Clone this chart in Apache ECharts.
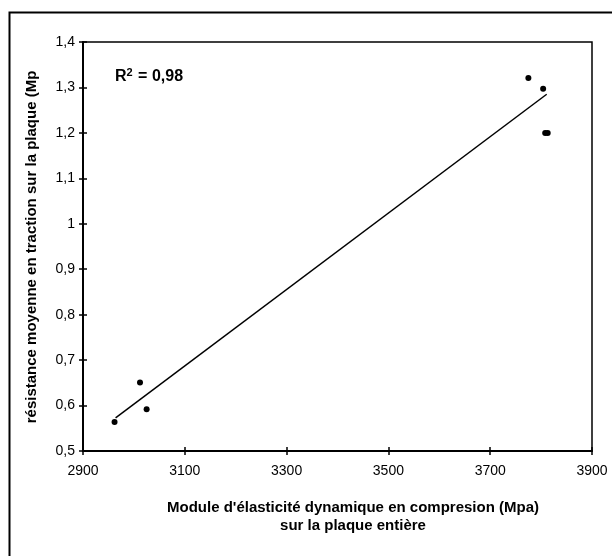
<!DOCTYPE html>
<html>
<head>
<meta charset="utf-8">
<script src="https://cdn.jsdelivr.net/npm/echarts@6/dist/echarts.min.js"></script>
<style>
html,body{margin:0;padding:0;background:#fff;}
#chart{width:612px;height:556px;}
</style>
</head>
<body>
<div id="chart"></div>
<script>
// Data
var moduleX = [2962, 3012, 3025, 3775, 3804, 3808, 3813];
var resistanceY = [0.564, 0.651, 0.592, 1.321, 1.297, 1.200, 1.200];
var trendX = [2964, 3811];
var trendY = [0.573, 1.285];
var xTitleLines = ["Module d'élasticité dynamique en compresion (Mpa)", "sur la plaque entière"];
var yTitle = "résistance moyenne en traction sur la plaque (Mp";
var r2Text = "0,98";

var points = moduleX.map(function (x, i) { return [x, resistanceY[i]]; });
var trend = trendX.map(function (x, i) { return [x, trendY[i]]; });

var FONT = 'Liberation Sans, Arial, sans-serif';
var chart = echarts.init(document.getElementById('chart'), null, {renderer: 'canvas'});

function yFmt(v) {
  var r = Math.round(v * 10) / 10;
  return String(r).replace('.', ',');
}
function xFmt(v) { return String(Math.round(v)); }

var tickStyle = {color: '#000', width: 1.5};
var option = {
  backgroundColor: '#fff',
  animation: false,
  grid: {
    left: 83, top: 42, right: 20, bottom: 105,
    show: true, borderColor: '#000', borderWidth: 1.5, backgroundColor: 'transparent'
  },
  xAxis: [{
    type: 'value', min: 2900, max: 3900, interval: 200,
    axisLine: {show: true, onZero: false, lineStyle: {color: '#000', width: 2}},
    axisTick: {show: true, inside: false, length: 4, lineStyle: tickStyle},
    axisLabel: {color: '#000', fontFamily: FONT, fontSize: 14, margin: 13, formatter: xFmt},
    splitLine: {show: false}
  }, {
    type: 'value', min: 2900, max: 3900, interval: 200, position: 'bottom', offset: 0,
    axisLine: {show: true, onZero: false, lineStyle: {color: 'rgba(0,0,0,0)', width: 0}},
    axisTick: {show: true, inside: true, length: 4, lineStyle: tickStyle},
    axisLabel: {show: false}, splitLine: {show: false}
  }],
  yAxis: [{
    type: 'value', min: 0.5, max: 1.4, interval: 0.1,
    axisLine: {show: true, onZero: false, lineStyle: {color: '#000', width: 2}},
    axisTick: {show: true, inside: false, length: 4, lineStyle: tickStyle},
    axisLabel: {color: '#000', fontFamily: FONT, fontSize: 14, margin: 8, formatter: yFmt},
    splitLine: {show: false}
  }, {
    type: 'value', min: 0.5, max: 1.4, interval: 0.1, position: 'left', offset: 0,
    axisLine: {show: true, onZero: false, lineStyle: {color: 'rgba(0,0,0,0)', width: 0}},
    axisTick: {show: true, inside: true, length: 4, lineStyle: tickStyle},
    axisLabel: {show: false}, splitLine: {show: false}
  }],
  graphic: [{
    type: 'rect', left: 7, top: 10, silent: true,
    shape: {x: 0, y: 0, width: 700, height: 700},
    style: {fill: 'none', stroke: '#000', lineWidth: 2}
  }, {
    type: 'text', x: 115, y: 77, silent: true,
    style: {
      rich: {
        b: {fontFamily: FONT, fontSize: 16, fontWeight: 'bold', fill: '#000'},
        s: {fontFamily: FONT, fontSize: 11, fontWeight: 'bold', fill: '#000', padding: [0, 1, 9, 0]}
      },
      text: '{b|R}{s|2}{b| = ' + r2Text + '}',
      align: 'left', verticalAlign: 'middle'
    }
  }, {
    type: 'text', x: 353, y: 517, silent: true,
    style: {
      text: xTitleLines.join('\n'),
      font: 'bold 15px ' + FONT, fill: '#000', lineHeight: 18,
      align: 'center', verticalAlign: 'middle'
    }
  }, {
    type: 'text', x: 32, y: 247, rotation: Math.PI / 2, silent: true,
    style: {
      text: yTitle,
      font: 'bold 15px ' + FONT, fill: '#000',
      align: 'center', verticalAlign: 'middle'
    }
  }],
  series: [{
    type: 'line', data: trend, xAxisIndex: 0, yAxisIndex: 0,
    symbol: 'none', lineStyle: {color: '#000', width: 1.5}, silent: true
  }, {
    type: 'scatter', data: points, xAxisIndex: 0, yAxisIndex: 0,
    symbol: 'circle', symbolSize: 6, itemStyle: {color: '#000', opacity: 1}, silent: true
  }]
};
chart.setOption(option);
</script>
</body>
</html>
